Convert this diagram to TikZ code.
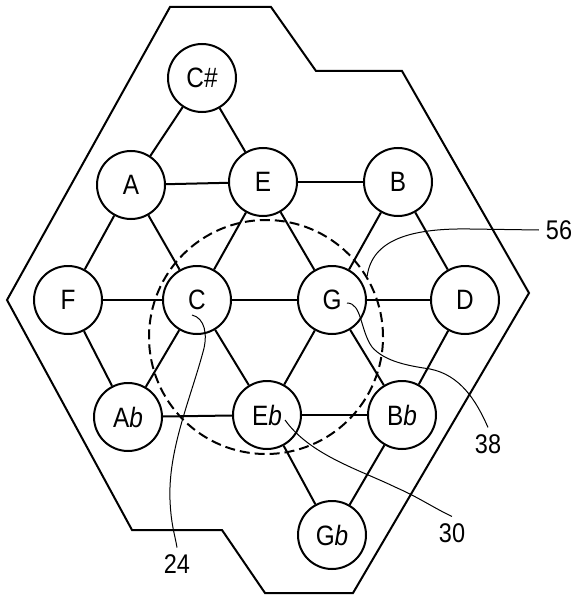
\documentclass[tikz,border=0pt]{standalone}
\usepackage{fontspec}
\setmainfont{Liberation Sans}[FakeStretch=0.87]
\usetikzlibrary{positioning}
\usetikzlibrary{calc}

\begin{document}
\begin{tikzpicture}[x=1pt, y=1pt, line width=2pt, on grid,
  key/.style={circle, draw, fill=white, minimum size=68pt, inner sep=0pt, font=\fontsize{28}{28}\selectfont},
  tag/.style={inner sep=6pt, font=\fontsize{27}{27}\selectfont},
  lead/.style={line width=1pt}]
\useasboundingbox (0,0) rectangle (574,-596);

\draw (170,-7) -- (271,-7) -- (316,-71) -- (402,-71) -- (529,-293) -- (353,-593)
  -- (265,-593) -- (222,-530) -- (132,-530) -- (7,-300) -- cycle;

\node[circle, draw, dashed, dash pattern=on 10pt off 5pt, minimum size=234pt] (zone) at (266,-337) {};

\node[key] (C) at (197,-300) {C};
\node[key, left=129pt of C] (F) {F};
\node[key, right=135pt of C] (G) {G};
\node[key, right=133pt of G] (D) {D};
\node[key, above left=115pt and 66pt of C] (A) {A};
\node[key, above right=118pt and 66pt of C] (E) {E};
\node[key, right=135pt of E] (B) {B};
\node[key, above right=107pt and 71pt of A] (Cs) {C\#};
\node[key, below left=117pt and 69pt of C] (Ab) {A\textit{b}};
\node[key, below right=115pt and 70pt of C] (Eb) {E\textit{b}};
\node[key, right=135pt of Eb] (Bb) {B\textit{b}};
\node[key, below right=120pt and 65pt of Eb] (Gb) {G\textit{b}};

\draw (Cs) -- (A);
\draw (Cs) -- (E);
\draw (A) -- (E);
\draw (E) -- (B);
\draw (A) -- (F);
\draw (A) -- (C);
\draw (E) -- (C);
\draw (E) -- (G);
\draw (B) -- (G);
\draw (B) -- (D);
\draw (F) -- (C);
\draw (C) -- (G);
\draw (G) -- (D);
\draw (F) -- (Ab);
\draw (C) -- (Ab);
\draw (C) -- (Eb);
\draw (G) -- (Eb);
\draw (G) -- (Bb);
\draw (D) -- (Bb);
\draw (Ab) -- (Eb);
\draw (Eb) -- (Bb);
\draw (Eb) -- (Gb);
\draw (Bb) -- (Gb);

\node[tag] (n56) at (559,-230) {56};
\node[tag] (n38) at (488,-444) {38};
\node[tag] (n30) at (452,-533) {30};
\node[tag] (n24) at (177,-564) {24};

\coordinate (g38) at (347,-303);
\coordinate (e30) at (285,-420);
\coordinate (c24) at (192,-315);

\draw[lead] (n56.west) -- (470,-229) .. controls (410,-228) and (372,-240) .. (zone.31);
\draw[lead] (g38) .. controls (362,-303) and (360,-330) .. (372,-347)
  .. controls (385,-362) and (410,-366) .. (430,-369)
  .. controls (460,-375) and (476,-400) .. (n38.north);
\draw[lead] (e30) .. controls (310,-455) and (360,-470) .. (395,-487)
  .. controls (420,-498) and (432,-507) .. (n30.north);
\draw[lead] (c24) .. controls (205,-318) and (208,-335) .. (203,-352)
  .. controls (190,-400) and (168,-450) .. (170,-500)
  .. controls (171,-525) and (175,-535) .. (n24.north);
\end{tikzpicture}
\end{document}
